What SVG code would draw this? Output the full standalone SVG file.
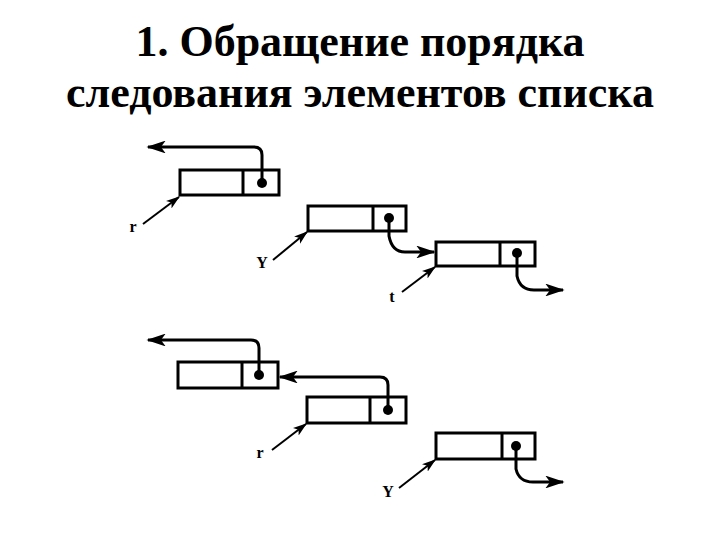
<svg xmlns="http://www.w3.org/2000/svg" width="720" height="540" viewBox="0 0 720 540">
<defs>
<style>
.title{font-family:"Liberation Serif","Times New Roman",serif;font-weight:bold;font-size:44px;fill:#000;text-anchor:middle}
.lbl{font-family:"Liberation Serif","Times New Roman",serif;font-weight:bold;font-size:16px;fill:#000;text-anchor:middle}
.box{fill:#fff;stroke:#000;stroke-width:3}
.div{stroke:#000;stroke-width:3}
.dot{fill:#000}
.con{fill:none;stroke:#000;stroke-width:3;marker-end:url(#ah)}
.ptr{fill:none;stroke:#000;stroke-width:2;marker-end:url(#ah2)}
</style>
<marker id="ah" viewBox="0 0 12 8" refX="11" refY="4" markerWidth="6.5" markerHeight="4.3" markerUnits="strokeWidth" orient="auto">
<path d="M0,0 L12,4 L0,8 L3,4 Z" fill="#000"/>
</marker>
<marker id="ah2" viewBox="0 0 12 8" refX="11" refY="4" markerWidth="7" markerHeight="5" markerUnits="strokeWidth" orient="auto">
<path d="M0,0 L12,4 L0,8 L3,4 Z" fill="#000"/>
</marker>
</defs>
<rect width="720" height="540" fill="#fff"/>
<g id="title">
<text class="title" x="360" y="56">1. Обращение порядка</text>
<text class="title" x="360" y="107">следования элементов списка</text>
</g>
<g id="n1"><rect class="box" x="180" y="170" width="99" height="25"/><line class="div" x1="243" y1="170" x2="243" y2="195"/><circle class="dot" cx="262" cy="183" r="5"/></g>
<g id="n2"><rect class="box" x="308" y="206" width="98" height="25"/><line class="div" x1="373" y1="206" x2="373" y2="231"/><circle class="dot" cx="389" cy="218" r="5"/></g>
<g id="n3"><rect class="box" x="436" y="242" width="99" height="24"/><line class="div" x1="500" y1="242" x2="500" y2="266"/><circle class="dot" cx="517" cy="253" r="5"/></g>
<g id="n4"><rect class="box" x="178" y="362" width="100" height="26"/><line class="div" x1="242" y1="362" x2="242" y2="388"/><circle class="dot" cx="259" cy="375" r="5"/></g>
<g id="n5"><rect class="box" x="307" y="397" width="99" height="26"/><line class="div" x1="370" y1="397" x2="370" y2="423"/><circle class="dot" cx="388" cy="410" r="5"/></g>
<g id="n6"><rect class="box" x="436" y="433" width="99" height="26"/><line class="div" x1="502" y1="433" x2="502" y2="459"/><circle class="dot" cx="516" cy="446" r="5"/></g>
<g id="labels">
<text class="lbl" x="133" y="232">r</text>
<text class="lbl" x="262" y="268">Y</text>
<text class="lbl" x="392" y="302">t</text>
<text class="lbl" x="260" y="458">r</text>
<text class="lbl" x="388" y="497">Y</text>
</g>
<g id="connectors">
<path class="con" d="M262,183 V155 Q262,147 254,147 H148"/>
<path class="con" d="M389,218 V236 Q392,252 405,252 H434"/>
<path class="con" d="M517,253 V276 Q520,290 534,290 H563"/>
<path class="con" d="M259,375 V348 Q259,340 251,340 H148"/>
<path class="con" d="M388,410 V385 Q388,377 380,377 H280"/>
<path class="con" d="M516,446 V469 Q519,482 533,482 H563"/>
<path class="ptr" d="M143,224 L179,197"/>
<path class="ptr" d="M273,260 L307,232"/>
<path class="ptr" d="M402,292 L435,267"/>
<path class="ptr" d="M272,450 L306,424"/>
<path class="ptr" d="M399,488 L435,460"/>
</g>
</svg>
